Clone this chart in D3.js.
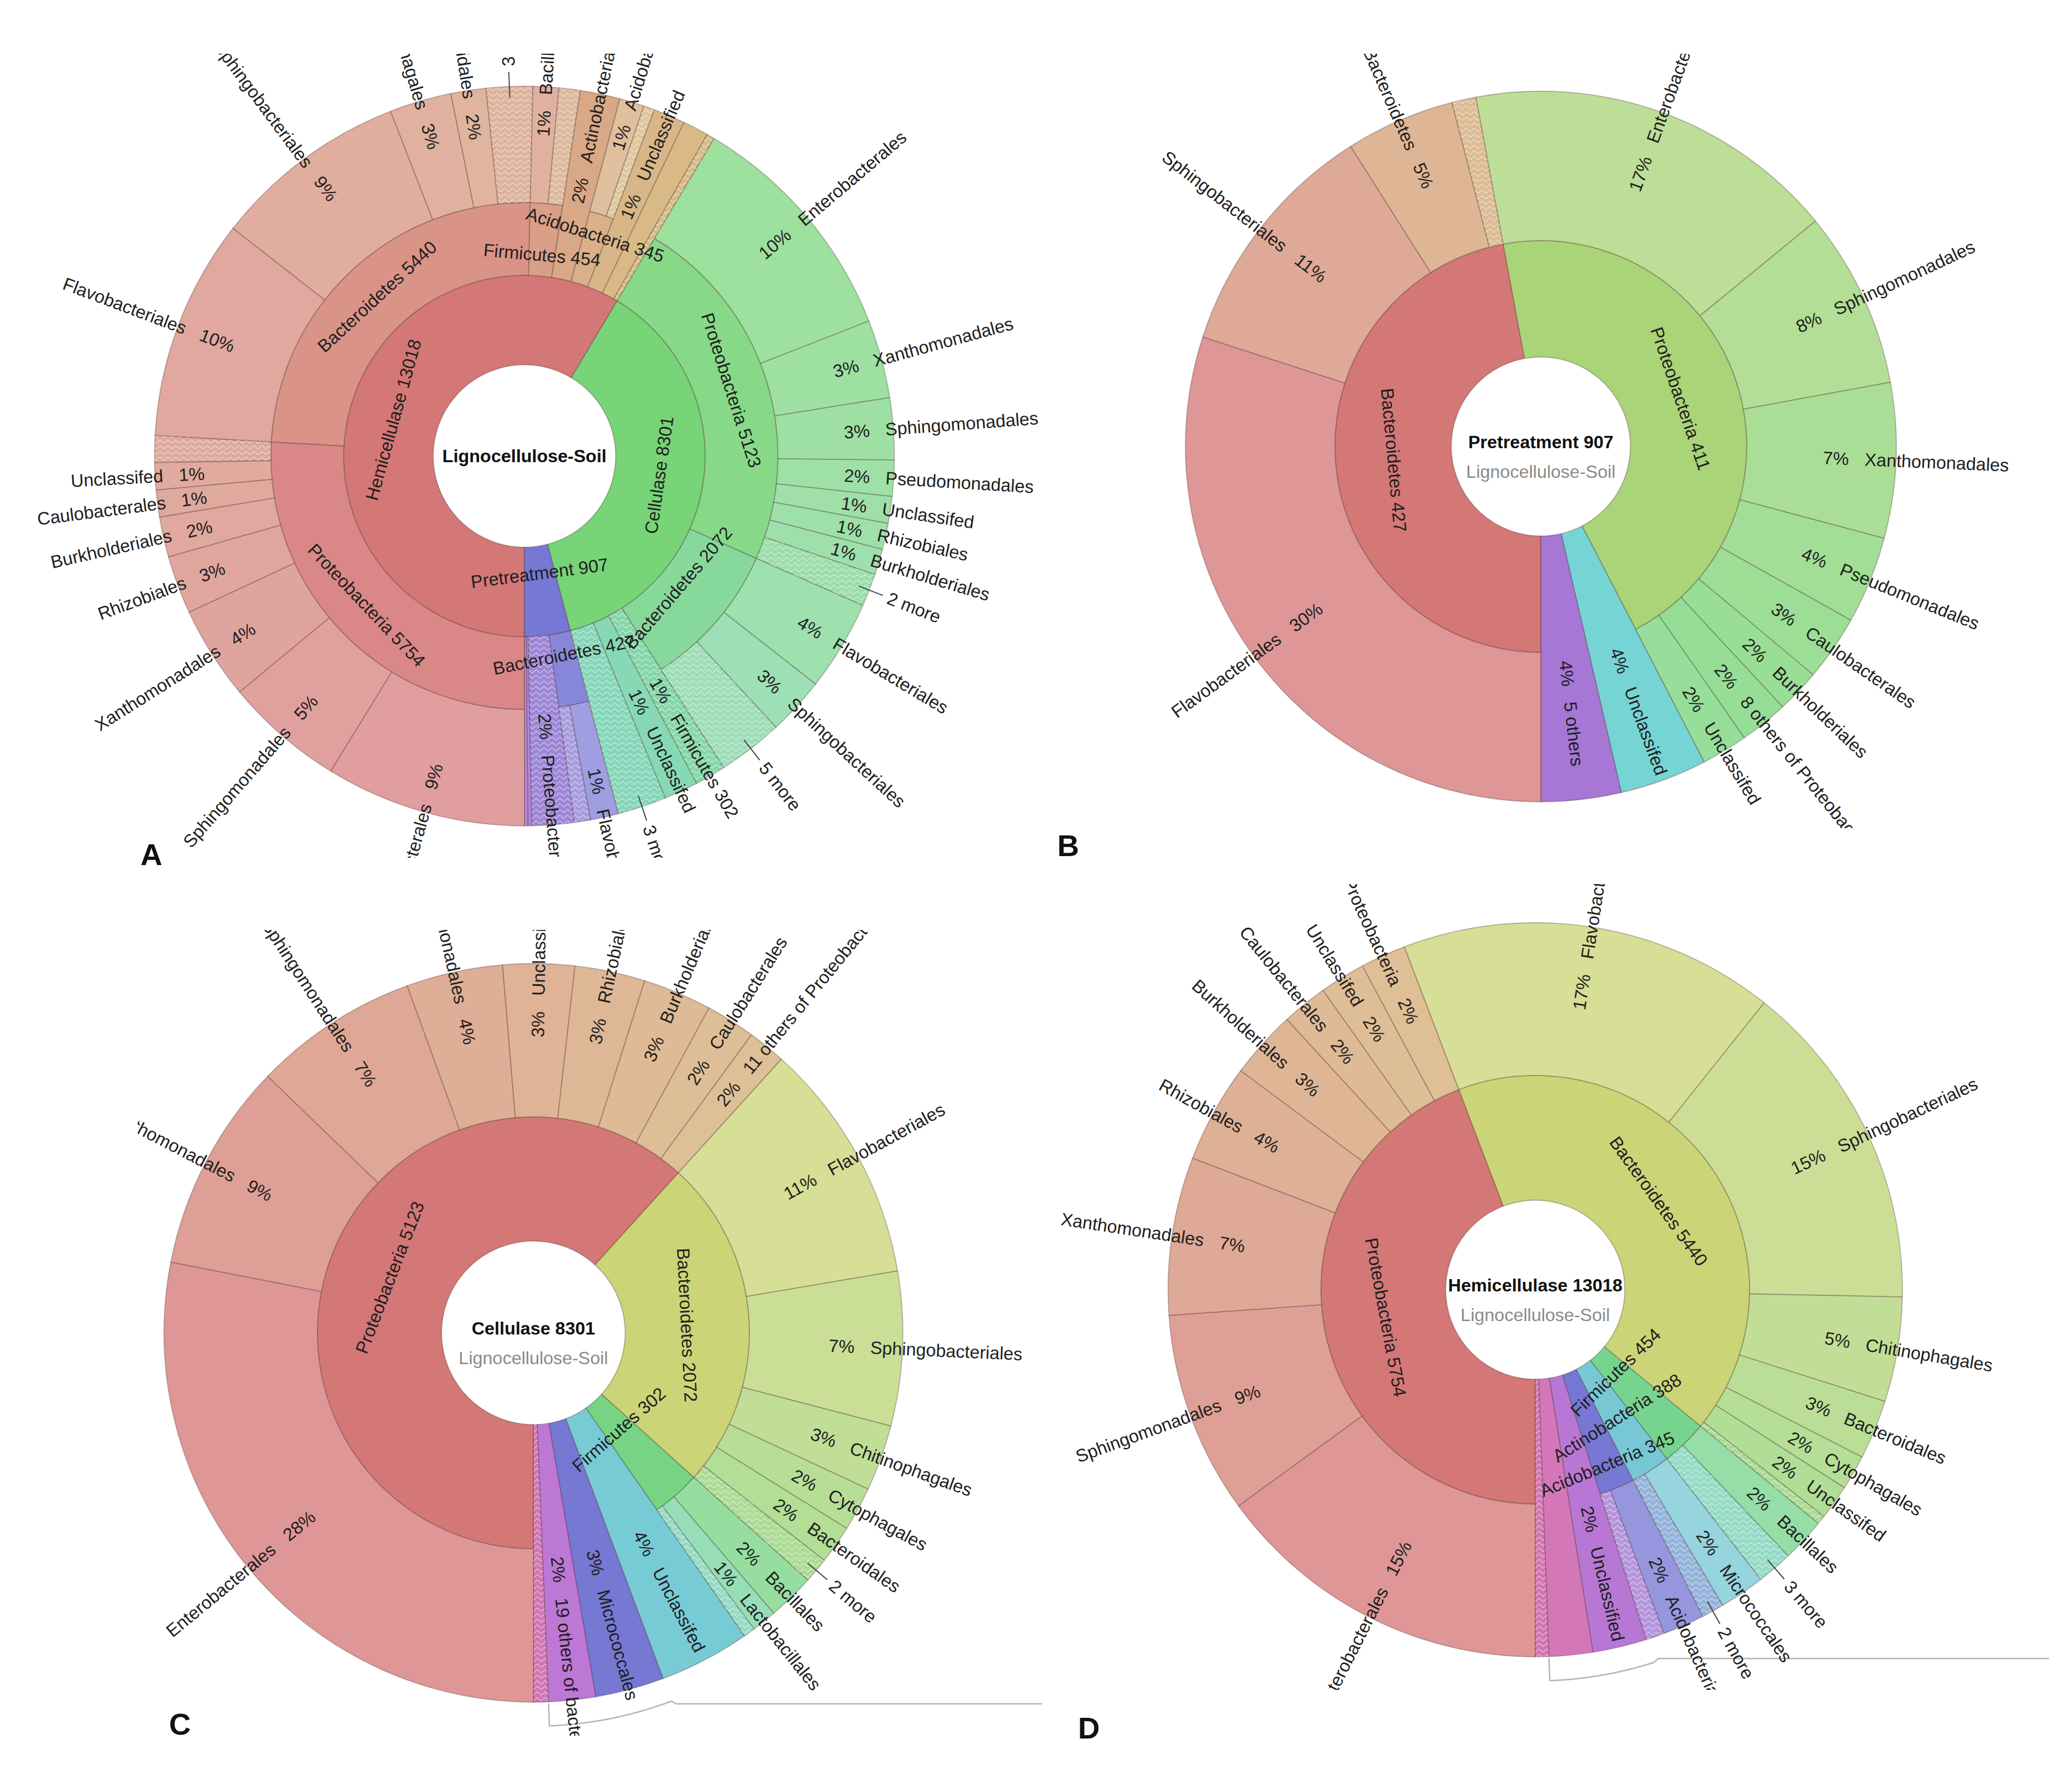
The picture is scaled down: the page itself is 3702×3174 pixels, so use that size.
<!DOCTYPE html>
<html><head><meta charset="utf-8">
<script src="https://cdn.jsdelivr.net/npm/d3@7"></script>
<style>
body{margin:0;background:#fff}
text{font-family:"Liberation Sans",Arial,sans-serif}
</style>
</head><body>
<svg id="chart" width="3702" height="3174"></svg>
<script>
// ---------------- DATA ----------------
// Each row: [path (levels separated by "/"), reads, kind]   kind: "" normal, "h" collapsed "N more" group, "c" collapsed node
const rowsA = [
 ["Hemicellulase/Proteobacteria/Enterobacterales",1950,""],
 ["Hemicellulase/Proteobacteria/Sphingomonadales",1160,""],
 ["Hemicellulase/Proteobacteria/Xanthomonadales",905,""],
 ["Hemicellulase/Proteobacteria/Rhizobiales",565,""],
 ["Hemicellulase/Proteobacteria/Burkholderiales",390,""],
 ["Hemicellulase/Proteobacteria/Caulobacterales",262,""],
 ["Hemicellulase/Proteobacteria/Unclassifed",262,""],
 ["Hemicellulase/Proteobacteria/",260,"h"],
 ["Hemicellulase/Bacteroidetes/Flavobacteriales",2150,""],
 ["Hemicellulase/Bacteroidetes/Sphingobacteriales",1900,""],
 ["Hemicellulase/Bacteroidetes/Chitinophagales",600,""],
 ["Hemicellulase/Bacteroidetes/Bacteroidales",340,""],
 ["Hemicellulase/Bacteroidetes/3 more",450,"h"],
 ["Hemicellulase/Firmicutes/Bacillales",250,""],
 ["Hemicellulase/Firmicutes/",204,"h"],
 ["Hemicellulase/Actinobacteria",388,""],
 ["Hemicellulase/Acidobacteria/Acidobacteriales",240,""],
 ["Hemicellulase/Acidobacteria/",105,"h"],
 ["Hemicellulase/Unclassified",310,""],
 ["Hemicellulase/",250,""],
 ["Hemicellulase/",77,"h"],
 ["Cellulase/Proteobacteria/Enterobacterales",2330,""],
 ["Cellulase/Proteobacteria/Xanthomonadales",760,""],
 ["Cellulase/Proteobacteria/Sphingomonadales",600,""],
 ["Cellulase/Proteobacteria/Pseudomonadales",350,""],
 ["Cellulase/Proteobacteria/Unclassifed",260,""],
 ["Cellulase/Proteobacteria/Rhizobiales",255,""],
 ["Cellulase/Proteobacteria/Burkholderiales",250,""],
 ["Cellulase/Proteobacteria/2 more",318,"h"],
 ["Cellulase/Bacteroidetes/Flavobacteriales",880,""],
 ["Cellulase/Bacteroidetes/Sphingobacteriales",560,""],
 ["Cellulase/Bacteroidetes/5 more",632,"h"],
 ["Cellulase/Firmicutes",302,"c"],
 ["Cellulase/Unclassifed",330,""],
 ["Cellulase/3 more",474,"h"],
 ["Pretreatment/Bacteroidetes/Flavobacteriales",272,""],
 ["Pretreatment/Bacteroidetes/",155,"h"],
 ["Pretreatment/Proteobacteria",411,"c"],
 ["Pretreatment/Unclassifed",36,""],
 ["Pretreatment/5 others",33,""]
];
const rowsB = [
 ["Bacteroidetes/Flavobacteriales",272,""],
 ["Bacteroidetes/Sphingobacteriales",100,""],
 ["Bacteroidetes/Bacteroidetes",45,""],
 ["Bacteroidetes/",10,"h"],
 ["Proteobacteria/Enterobacterales",154,""],
 ["Proteobacteria/Sphingomonadales",73,""],
 ["Proteobacteria/Xanthomonadales",64,""],
 ["Proteobacteria/Pseudomonadales",36,""],
 ["Proteobacteria/Caulobacterales",27,""],
 ["Proteobacteria/Burkholderiales",18,""],
 ["Proteobacteria/8 others of Proteobacteria",20,""],
 ["Proteobacteria/Unclassifed",19,""],
 ["Unclassifed",36,""],
 ["5 others",33,""]
];
const rowsC = [
 ["Proteobacteria/Enterobacterales",2330,""],
 ["Proteobacteria/Xanthomonadales",760,""],
 ["Proteobacteria/Sphingomonadales",600,""],
 ["Proteobacteria/Pseudomonadales",350,""],
 ["Proteobacteria/Unclassifed",260,""],
 ["Proteobacteria/Rhizobiales",255,""],
 ["Proteobacteria/Burkholderiales",250,""],
 ["Proteobacteria/Caulobacterales",180,""],
 ["Proteobacteria/11 others of Proteobacteria",138,""],
 ["Bacteroidetes/Flavobacteriales",880,""],
 ["Bacteroidetes/Sphingobacteriales",560,""],
 ["Bacteroidetes/Chitinophagales",240,""],
 ["Bacteroidetes/Cytophagales",160,""],
 ["Bacteroidetes/Bacteroidales",140,""],
 ["Bacteroidetes/2 more",92,"h"],
 ["Firmicutes/Bacillales",170,""],
 ["Firmicutes/Lactobacillales",90,""],
 ["Firmicutes/",42,"h"],
 ["Unclassifed",330,""],
 ["Micrococcales",250,""],
 ["19 others of bacteria",170,""],
 ["",54,"h"]
];
const rowsD = [
 ["Proteobacteria/Enterobacterales",1950,""],
 ["Proteobacteria/Sphingomonadales",1160,""],
 ["Proteobacteria/Xanthomonadales",905,""],
 ["Proteobacteria/Rhizobiales",565,""],
 ["Proteobacteria/Burkholderiales",390,""],
 ["Proteobacteria/Caulobacterales",262,""],
 ["Proteobacteria/Unclassifed",262,""],
 ["Proteobacteria/6 others of Proteobacteria",260,""],
 ["Bacteroidetes/Flavobacteriales",2150,""],
 ["Bacteroidetes/Sphingobacteriales",1900,""],
 ["Bacteroidetes/Chitinophagales",600,""],
 ["Bacteroidetes/Bacteroidales",340,""],
 ["Bacteroidetes/Cytophagales",200,""],
 ["Bacteroidetes/Unclassifed",200,""],
 ["Bacteroidetes/",50,"h"],
 ["Firmicutes/Bacillales",250,""],
 ["Firmicutes/3 more",204,"h"],
 ["Actinobacteria/Micrococcales",260,""],
 ["Actinobacteria/2 more",128,"h"],
 ["Acidobacteria/Acidobacteriales",240,""],
 ["Acidobacteria/",105,"h"],
 ["Unclassified",310,""],
 ["",250,""],
 ["",77,"h"]
];
const rootNames = {A:"Lignocellulose-Soil", B:"Pretreatment", C:"Cellulase", D:"Hemicellulase"};
const datasetName = "Lignocellulose-Soil";

// ---------------- LAYOUT / STYLE ----------------
const FS = 32;
const panels = [
 {key:"A", rows:rowsA, cx:937, cy:815, radii:[163,323,453,661], clip:[0,96,1880,1533],
  hues:[0,120,240], spread:{2:40,3:12}, light:[65,69,75], labelFrac:0.93, letter:[251,1546], showCount:false, bracket:0},
 {key:"B", rows:rowsB, cx:2753, cy:798, radii:[160,368,635], clip:[1880,96,3702,1480],
  hues:[0,88,180,270], spread:{2:35}, light:[65,73], labelFrac:0.79, letter:[1889,1530], showCount:true, bracket:0},
 {key:"C", rows:rowsC, cx:953, cy:2382, radii:[164,386,660], clip:[246,1662,1865,3102],
  hues:[0,66,128,186,240,285,320], spread:{2:35}, light:[65,73], labelFrac:0.79, letter:[302,3100], showCount:true, bracket:2},
 {key:"D", rows:rowsD, cx:2743, cy:2305, radii:[160,383,656], clip:[1880,1580,3664,3020],
  hues:[0,66,135,188,240,282,318,322], spread:{2:35}, light:[65,73], labelFrac:0.79, letter:[1926,3107], showCount:true, bracket:2}
];

const svg = d3.select("#chart");
const defs = svg.append("defs");
const pat = defs.append("pattern").attr("id","hatch").attr("patternUnits","userSpaceOnUse")
  .attr("width",14).attr("height",10);
pat.append("path").attr("d","M0,8 L7,2 L14,8").attr("fill","none")
  .attr("stroke","rgba(255,255,255,0.5)").attr("stroke-width",1.5);
pat.append("path").attr("d","M0,10 L7,4 L14,10").attr("fill","none")
  .attr("stroke","rgba(0,0,0,0.07)").attr("stroke-width",1.2);

function buildTree(rootName, rows){
  const root = {name:rootName, children:[]};
  rows.forEach(([path, value, kind]) => {
    const parts = path.split("/");
    let node = root;
    parts.forEach((p, i) => {
      if (i === parts.length - 1) node.children.push({name:p, value:value, kind:kind});
      else {
        let c = node.children.find(d => d.name === p && d.children);
        if (!c) { c = {name:p, children:[]}; node.children.push(c); }
        node = c;
      }
    });
  });
  return d3.hierarchy(root).sum(d => d.children ? 0 : d.value);
}

function pt(a, r){ return [r*Math.sin(a), -r*Math.cos(a)]; }

panels.forEach(cfg => {
  const root = buildTree(rootNames[cfg.key], cfg.rows);
  d3.partition().size([2*Math.PI, 1])(root);
  const total = root.value;
  const maxDepth = cfg.radii.length - 1;
  const R = cfg.radii;

  root.each(n => {
    if (n.depth === 0) return;
    const idx = n.parent.children.indexOf(n);
    if (n.depth === 1) n.hue = cfg.hues[idx % cfg.hues.length];
    else {
      const k = n.parent.children.length;
      n.hue = n.parent.hue + cfg.spread[n.depth] * (1 - Math.pow(1 - idx/k, 2));
    }
    n.fill = d3.hsl(n.hue, 0.52, cfg.light[n.depth-1]/100).formatHex();
  });

  const [x0c,y0c,x1c,y1c] = cfg.clip;
  defs.append("clipPath").attr("id","clip"+cfg.key).append("rect")
    .attr("x",x0c).attr("y",y0c).attr("width",x1c-x0c).attr("height",y1c-y0c);
  const g = svg.append("g").attr("clip-path",`url(#clip${cfg.key})`);
  const pg = g.append("g").attr("transform",`translate(${cfg.cx},${cfg.cy})`);

  const arc = d3.arc()
    .startAngle(d => d.x0 + Math.PI).endAngle(d => d.x1 + Math.PI)
    .innerRadius(d => R[d.depth-1])
    .outerRadius(d => d.children ? R[d.depth] : R[maxDepth]);
  const nodes = root.descendants().filter(d => d.depth > 0);

  pg.append("g").selectAll("path").data(nodes).join("path")
    .attr("d", arc).attr("fill", d => d.fill)
    .attr("stroke","rgba(70,40,40,0.32)").attr("stroke-width",1.8);
  pg.append("g").selectAll("path").data(nodes.filter(d => d.data.kind==="h" || d.data.kind==="c")).join("path")
    .attr("d", arc).attr("fill","url(#hatch)").attr("stroke","none");

  // bracket under the small tail groups
  if (cfg.bracket > 0){
    const kids = root.children;
    const last = kids.length - 2;
    const first = last - cfg.bracket + 1;
    const a0 = kids[first].x0 + Math.PI, a1 = kids[last].x1 + Math.PI, rb = R[maxDepth] + 43;
    const p = d3.path();
    const s = pt(a1, R[maxDepth] + 3); p.moveTo(s[0], s[1]);
    const e = pt(a1, rb); p.lineTo(e[0], e[1]);
    p.arc(0, 0, rb, a1 - Math.PI/2, a0 - Math.PI/2, true);
    const f = pt(a0, rb);
    p.lineTo(f[0] + 8, R[maxDepth] + 3);
    p.lineTo(x1c - cfg.cx - 3, R[maxDepth] + 3);
    pg.append("path").attr("d", p.toString()).attr("fill","none")
      .attr("stroke","#b5b5b5").attr("stroke-width",2.5);
  }

  const lab = pg.append("g").attr("font-size",FS).attr("fill","#1e1e1e");

  // outer (leaf) labels, radial
  nodes.filter(d => !d.children).forEach(d => {
    const name = d.data.name;
    const spanDeg = (d.x1 - d.x0) * 180/Math.PI;
    if (!name || spanDeg < 2) return;
    const mid = (d.x0 + d.x1)/2 + Math.PI;
    const th = ((mid*180/Math.PI) % 360 + 360) % 360;
    const right = th < 180 || th > 356;
    const rot = right ? th - 90 : th + 90;
    const sg = right ? 1 : -1;
    const lg = lab.append("g").attr("transform",`rotate(${rot})`);
    const ro = R[maxDepth];
    if (d.data.kind === "h"){
      lg.append("line").attr("x1", sg*(ro-20)).attr("x2", sg*(ro+26)).attr("y1",0).attr("y2",0)
        .attr("stroke","#444").attr("stroke-width",2);
      lg.append("text").attr("x", sg*(ro+36)).attr("dy","0.35em")
        .attr("text-anchor", right ? "start" : "end").text(name);
      return;
    }
    const inner = R[d.depth-1];
    const frac = d.depth < maxDepth ? 0.63 : cfg.labelFrac;
    const nameR = inner + frac*(ro - inner);
    const nameText = d.data.kind === "c" ? `${name} ${d.value}` : name;
    const pct = Math.round(d.value/total*100) + "%";
    lg.append("text").attr("x", sg*nameR).attr("dy","0.35em")
      .attr("text-anchor", right ? "start" : "end").text(nameText);
    lg.append("text").attr("x", sg*(nameR-28)).attr("dy","0.35em")
      .attr("text-anchor", right ? "end" : "start").text(pct);
  });

  // inner labels, tangential
  root.each(par => {
    if (!par.children) return;
    const inn = par.children.filter(c => c.children);
    const info = inn.map(c => {
      const rin = R[c.depth-1], rout = R[c.depth];
      const txt = `${c.data.name} ${c.value}`;
      const arcLen = (c.x1 - c.x0) * (rin+rout)/2;
      return {c, rin, rout, txt, narrow: arcLen < txt.length*FS*0.55};
    });
    let i = 0;
    while (i < info.length){
      if (!info[i].narrow){ info[i].frac = 0.5; i++; continue; }
      let j = i; while (j < info.length && info[j].narrow) j++;
      const n = j - i;
      for (let k = i; k < j; k++) info[k].frac = n === 1 ? 0.3 : ((k-i)+0.7)/(n+0.4);
      i = j;
    }
    info.forEach(o => {
      const c = o.c;
      const mid = (c.x0 + c.x1)/2 + Math.PI;
      const th = ((mid*180/Math.PI) % 360 + 360) % 360;
      const rm = o.rin + o.frac*(o.rout - o.rin);
      const p = pt(mid, rm);
      const rot = (th > 90 && th < 270) ? th - 180 : th;
      lab.append("text").attr("transform",`translate(${p[0]},${p[1]}) rotate(${rot})`)
        .attr("dy","0.35em").attr("text-anchor","middle").text(o.txt);
    });
  });

  // center text
  if (cfg.showCount){
    pg.append("text").attr("y",3).attr("text-anchor","middle").attr("font-size",FS)
      .attr("font-weight","bold").attr("fill","#111").text(`${root.data.name} ${root.value}`);
    pg.append("text").attr("y",56).attr("text-anchor","middle").attr("font-size",FS)
      .attr("fill","#8a8a8a").text(datasetName);
  } else {
    pg.append("text").attr("y",11).attr("text-anchor","middle").attr("font-size",FS)
      .attr("font-weight","bold").attr("fill","#111").text(root.data.name);
  }

  svg.append("text").attr("x",cfg.letter[0]).attr("y",cfg.letter[1])
    .attr("font-size",54).attr("font-weight","bold").attr("fill","#111").text(cfg.key);
});
</script>
</body></html>
